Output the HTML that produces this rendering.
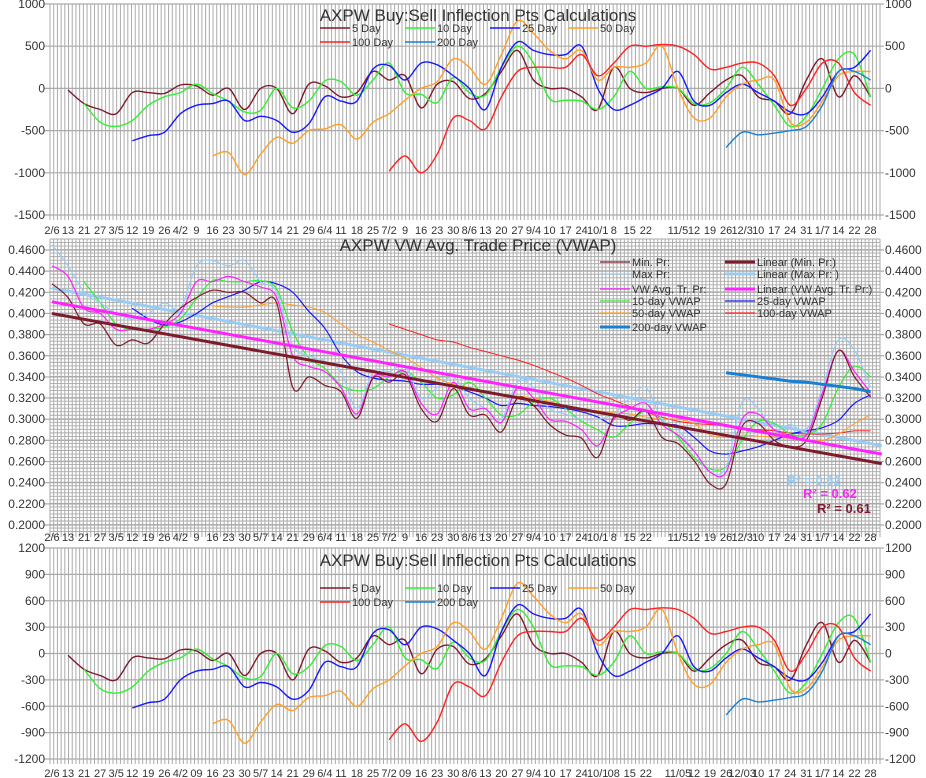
<!DOCTYPE html>
<html><head><meta charset="utf-8"><style>
html,body{margin:0;padding:0;background:#fff;}
svg{display:block;font-family:"Liberation Sans",sans-serif;}
</style></head><body>
<svg id="chart" width="926" height="778" viewBox="0 0 926 778" xmlns="http://www.w3.org/2000/svg">
<g id="grid"></g>
<g id="marks"></g>
<g id="labels"></g>
<g id="legend"></g>
<text x="478" y="21" text-anchor="middle" font-size="17" fill="#333">AXPW Buy:Sell Inflection Pts Calculations</text>
<text x="478" y="251" text-anchor="middle" font-size="17" fill="#333">AXPW VW Avg. Trade Price (VWAP)</text>
<text x="478" y="566" text-anchor="middle" font-size="17" fill="#333">AXPW Buy:Sell Inflection Pts Calculations</text>
<text x="787" y="485" font-size="13" font-weight="bold" fill="#99ccf5">R² = 0.62</text>
<text x="803" y="498" font-size="13" font-weight="bold" fill="#ff22ff">R² = 0.62</text>
<text x="817" y="513" font-size="13" font-weight="bold" fill="#7f1a2c">R² = 0.61</text>
</svg>
<script>
const weekLabels = ["2/6","13","21","27","3/5","12","19","26","4/2","9","16","23","30","5/7","14","21","29","6/4","11","18","25","7/2","9","16","23","30","8/6","13","20","27","9/4","10","17","24","10/1","8","15","22","","11/5","12","19","26","12/3","10","17","24","31","1/7","14","22","28"];
const weekLabelsBottom = ["2/6","13","21","27","3/5","12","19","26","4/2","09","16","23","30","5/7","14","21","29","6/4","11","18","25","7/2","09","16","23","30","8/6","13","20","27","9/4","10","17","24","10/1","08","15","22","","11/05","12","19","26","12/03","10","17","24","31","1/7","14","22","28"];
const yTicksTop = [1000,500,0,-500,-1000,-1500];
const yTicksBottom = [1200,900,600,300,0,-300,-600,-900,-1200];
const yTicksMid = [0.46,0.44,0.42,0.40,0.38,0.36,0.34,0.32,0.30,0.28,0.26,0.24,0.22,0.20];

const d5 = [null,-20,-180,-250,-300,-50,-50,-60,40,30,-80,0,-250,0,0,-300,50,30,-100,-50,200,100,150,-230,50,80,-120,-60,200,450,100,0,0,-100,-250,250,0,-50,0,0,-200,-50,100,150,-100,-150,-300,100,350,-100,150,-100];
const d10 = [null,null,-180,-400,-450,-380,-200,-100,-50,50,-60,-150,-280,-260,0,-230,-150,90,80,-80,100,300,-50,-70,-170,130,-50,-80,250,500,300,-120,-140,-150,-250,-100,200,0,20,0,-180,-170,0,250,50,-200,-450,-330,0,350,400,-100];
const d25 = [null,null,null,null,null,-620,-560,-520,-300,-200,-180,-150,-380,-330,-380,-520,-420,-100,-150,-150,230,270,100,300,280,150,0,-250,250,550,450,400,400,500,0,-250,-200,-100,0,200,-150,-200,-50,50,-50,-150,-280,-300,-100,200,250,450];
const d50 = [null,null,null,null,null,null,null,null,null,null,-800,-760,-1020,-780,-580,-650,-500,-480,-430,-600,-400,-300,-140,0,80,350,250,50,400,800,650,450,350,450,100,250,250,300,500,0,-350,-350,-100,50,100,100,-400,-400,-150,150,200,200];
const d100 = [null,null,null,null,null,null,null,null,null,null,null,null,null,null,null,null,null,null,null,null,null,-980,-800,-1000,-780,-350,-380,-480,-100,200,250,250,250,400,150,300,500,500,520,500,400,230,250,300,300,150,-200,0,300,300,-50,-200];
const d200 = [null,null,null,null,null,null,null,null,null,null,null,null,null,null,null,null,null,null,null,null,null,null,null,null,null,null,null,null,null,null,null,null,null,null,null,null,null,null,null,null,null,null,-700,-520,-550,-530,-500,-450,-200,200,200,100];

const minPr = [0.428,0.415,0.39,0.39,0.37,0.375,0.372,0.39,0.405,0.415,0.422,0.42,0.42,0.41,0.41,0.33,0.34,0.332,0.326,0.301,0.339,0.335,0.342,0.31,0.298,0.329,0.304,0.304,0.288,0.32,0.313,0.295,0.285,0.282,0.264,0.302,0.299,0.308,0.283,0.277,0.261,0.239,0.239,0.293,0.296,0.28,0.274,0.28,0.321,0.365,0.34,0.321];
const maxPr = [0.465,0.445,0.42,0.41,0.40,0.395,0.40,0.41,0.405,0.445,0.45,0.445,0.45,0.43,0.42,0.37,0.36,0.355,0.345,0.31,0.345,0.345,0.35,0.32,0.33,0.34,0.32,0.31,0.30,0.335,0.33,0.31,0.305,0.30,0.30,0.305,0.32,0.33,0.30,0.29,0.27,0.25,0.255,0.316,0.31,0.29,0.295,0.29,0.33,0.375,0.365,0.33];
const vwPr = [0.445,0.435,0.405,0.40,0.385,0.385,0.385,0.39,0.40,0.43,0.43,0.435,0.43,0.425,0.415,0.36,0.35,0.345,0.33,0.305,0.34,0.34,0.345,0.315,0.305,0.335,0.31,0.31,0.297,0.33,0.32,0.30,0.298,0.29,0.275,0.30,0.31,0.315,0.295,0.285,0.27,0.25,0.25,0.30,0.305,0.29,0.285,0.285,0.325,0.365,0.345,0.325];
const v10 = [null,null,0.43,0.41,0.39,0.385,0.385,0.387,0.395,0.414,0.431,0.43,0.43,0.431,0.423,0.383,0.358,0.348,0.332,0.327,0.329,0.34,0.345,0.335,0.32,0.323,0.335,0.32,0.304,0.304,0.316,0.32,0.31,0.298,0.29,0.283,0.296,0.308,0.299,0.283,0.264,0.253,0.255,0.28,0.298,0.296,0.286,0.285,0.296,0.33,0.35,0.34];
const v25 = [null,null,null,null,null,0.405,0.395,0.389,0.392,0.40,0.41,0.416,0.422,0.43,0.428,0.42,0.402,0.386,0.361,0.345,0.339,0.337,0.336,0.333,0.333,0.331,0.326,0.32,0.313,0.315,0.313,0.312,0.31,0.307,0.302,0.294,0.294,0.296,0.295,0.294,0.283,0.27,0.267,0.27,0.274,0.28,0.286,0.289,0.292,0.299,0.315,0.323];
const v50 = [null,null,null,null,null,null,null,null,null,null,0.407,0.406,0.406,0.408,0.41,0.408,0.406,0.401,0.39,0.38,0.373,0.365,0.358,0.349,0.339,0.333,0.33,0.325,0.323,0.322,0.32,0.317,0.312,0.307,0.308,0.306,0.305,0.302,0.30,0.30,0.296,0.285,0.283,0.285,0.284,0.283,0.282,0.28,0.28,0.286,0.296,0.304];
const v100 = [null,null,null,null,null,null,null,null,null,null,null,null,null,null,null,null,null,null,null,null,null,0.39,0.385,0.38,0.375,0.373,0.368,0.364,0.36,0.356,0.351,0.345,0.339,0.332,0.324,0.318,0.312,0.307,0.302,0.298,0.296,0.295,0.294,0.292,0.29,0.289,0.287,0.286,0.286,0.287,0.289,0.289];
const v200 = [null,null,null,null,null,null,null,null,null,null,null,null,null,null,null,null,null,null,null,null,null,null,null,null,null,null,null,null,null,null,null,null,null,null,null,null,null,null,null,null,null,null,0.344,0.342,0.340,0.338,0.336,0.335,0.333,0.331,0.329,0.326];
const trendMin = [0.400,0.258];
const trendMax = [0.424,0.275];
const trendVw = [0.411,0.267];
const trendWeeks = [0,51.7];

const NS = "http://www.w3.org/2000/svg";
const X0 = 52, XW = 16.05, PL = 50, PR = 880;
function xw(w){ return X0 + w*XW; }
function yTop(v){ return 4 + (1000 - v)/2500*211; }
function yBot(v){ return 548 + (1200 - v)/2400*211; }
function yMid(v){ return 250 + (0.46 - v)/0.26*275; }

function el(tag, attrs, parent){
  const e = document.createElementNS(NS, tag);
  for (const k in attrs) e.setAttribute(k, attrs[k]);
  parent.appendChild(e);
  return e;
}
const grid = document.getElementById('grid');
const marks = document.getElementById('marks');
const labels = document.getElementById('labels');
const legend = document.getElementById('legend');

function panelGrid(yA, yB, hLines, minor){
  const nd = 224;
  for (let i = 0; i <= nd; i++){
    const x = PL + i*(PR-PL)/nd;
    el('line',{x1:x,x2:x,y1:yA,y2:yB+5,stroke:'#aaa','stroke-width':1},grid);
  }
  hLines.forEach(y => el('line',{x1:PL-6,x2:PR+4,y1:y,y2:y,stroke:'#aaa','stroke-width':1.2},grid));
  if (minor){
    for (let y = yA; y <= yB+0.1; y += minor){
      el('line',{x1:PL,x2:PR,y1:y,y2:y,stroke:'#aaa','stroke-width':0.9},grid);
    }
  }
}
panelGrid(4,215,yTicksTop.map(yTop),0);
panelGrid(239,532,yTicksMid.map(yMid),21.15/6);
panelGrid(548,759,yTicksBottom.map(yBot),0);

function smoothPath(pts){
  let d = '';
  let seg = [];
  const flush = () => {
    if (seg.length > 1){
      d += 'M' + seg[0][0].toFixed(1) + ',' + seg[0][1].toFixed(1);
      for (let i = 0; i < seg.length-1; i++){
        const p0 = seg[Math.max(0,i-1)], p1 = seg[i], p2 = seg[i+1], p3 = seg[Math.min(seg.length-1,i+2)];
        const c1x = p1[0]+(p2[0]-p0[0])/6, c1y = p1[1]+(p2[1]-p0[1])/6;
        const c2x = p2[0]-(p3[0]-p1[0])/6, c2y = p2[1]-(p3[1]-p1[1])/6;
        d += 'C'+c1x.toFixed(1)+','+c1y.toFixed(1)+' '+c2x.toFixed(1)+','+c2y.toFixed(1)+' '+p2[0].toFixed(1)+','+p2[1].toFixed(1);
      }
    }
    seg = [];
  };
  pts.forEach(p => { if (p === null) flush(); else seg.push(p); });
  flush();
  return d;
}
function drawSeries(arr, yf, color, width, name){
  const pts = arr.map((v,i) => v === null ? null : [xw(i), yf(v)]);
  const p = el('path',{d:smoothPath(pts),fill:'none',stroke:color,'stroke-width':width,'stroke-linejoin':'round'},marks);
  
  
}
function drawTrend(vals, color, name){
  const p = el('line',{x1:xw(trendWeeks[0]),y1:yMid(vals[0]),x2:xw(trendWeeks[1]),y2:yMid(vals[1]),stroke:color,'stroke-width':3},marks);
  
  
}

const C = {d5:'#7f1a2c',d10:'#33ee33',d25:'#1818ff',d50:'#ff9f2a',d100:'#ff2020',d200:'#1a7fd0',lb:'#99ccf5',mg:'#ff22ff'};
[[d5,C.d5,'5-day'],[d10,C.d10,'10-day'],[d25,C.d25,'25-day'],[d50,C.d50,'50-day'],[d100,C.d100,'100-day'],[d200,C.d200,'200-day']].forEach(s=>{
  drawSeries(s[0], yTop, s[1], 1.4, 'top-line-'+s[2]);
  drawSeries(s[0], yBot, s[1], 1.4, 'bottom-line-'+s[2]);
});
drawTrend(trendMax, C.lb, 'trend-max-price');
drawSeries(v100, yMid, C.d100, 1, 'vwap-100-day-line');
drawSeries(v50, yMid, C.d50, 1, 'vwap-50-day-line');
drawSeries(v25, yMid, C.d25, 1.2, 'vwap-25-day-line');
drawSeries(v10, yMid, C.d10, 1.2, 'vwap-10-day-line');
drawSeries(maxPr, yMid, C.lb, 1.2, 'max-price-line');
drawSeries(vwPr, yMid, C.mg, 1.2, 'vw-avg-price-line');
drawSeries(minPr, yMid, C.d5, 1.2, 'min-price-line');
drawSeries(v200, yMid, C.d200, 3, 'vwap-200-day-line');
drawTrend(trendVw, C.mg, 'trend-vw-avg-price');
drawTrend(trendMin, C.d5, 'trend-min-price');

function yLabels(ticks, yf, fmt, prefix){
  ticks.forEach(v=>{
    const a = el('text',{x:45,y:yf(v)+4,'text-anchor':'end','font-size':12,fill:'#333'},labels);
    a.textContent = fmt(v);
    
    
    const b = el('text',{x:885,y:yf(v)+4,'font-size':12,fill:'#333'},labels);
    b.textContent = fmt(v);
    
    
  });
}
yLabels(yTicksTop, yTop, v=>String(v), 'top-y');
yLabels(yTicksMid, yMid, v=>v.toFixed(4), 'mid-y');
yLabels(yTicksBottom, yBot, v=>String(v), 'bottom-y');
function xLabels(list, y, prefix){
  list.forEach((t,i)=>{
    const a = el('text',{x:xw(i),y:y,'text-anchor':'middle','font-size':11,fill:'#333'},labels);
    a.textContent = t;
    
    
  });
}
xLabels(weekLabels, 234, 'top');
xLabels(weekLabels, 541, 'mid');
xLabels(weekLabelsBottom, 777, 'bottom');

function legendItem(x, y, color, w, text, name){
  const l = el('line',{x1:x,x2:x+30,y1:y,y2:y,stroke:color,'stroke-width':w},legend);
  
  
  const t = el('text',{x:x+32,y:y+4,'font-size':11,fill:'#333'},legend);
  t.textContent = text;
  
  
}
[[28,0],[588,1]].forEach(o=>{
  const y1 = o[0], p = o[1] ? 'bottom' : 'top';
  legendItem(320,y1,C.d5,1.4,'5 Day',p+'-legend-5-day');
  legendItem(405,y1,C.d10,1.4,'10 Day',p+'-legend-10-day');
  legendItem(490,y1,C.d25,1.4,'25 Day',p+'-legend-25-day');
  legendItem(568,y1,C.d50,1.4,'50 Day',p+'-legend-50-day');
  legendItem(320,y1+14,C.d100,1.4,'100 Day',p+'-legend-100-day');
  legendItem(405,y1+14,C.d200,1.4,'200 Day',p+'-legend-200-day');
});
const legRows = [262,274,289,301,313,327];
legendItem(600,legRows[0],C.d5,1.2,'Min. Pr:','legend-min-price');
legendItem(600,legRows[1],C.lb,1.2,'Max Pr:','legend-max-price');
legendItem(600,legRows[2],C.mg,1.2,'VW Avg. Tr. Pr:','legend-vw-avg');
legendItem(600,legRows[3],C.d10,1.2,'10-day VWAP','legend-vwap-10');
legendItem(600,legRows[4],C.d50,1.2,'50-day VWAP','legend-vwap-50');
legendItem(600,legRows[5],C.d200,3,'200-day VWAP','legend-vwap-200');
legendItem(725,legRows[0],C.d5,3,'Linear (Min. Pr:)','legend-linear-min');
legendItem(725,legRows[1],C.lb,3,'Linear (Max Pr: )','legend-linear-max');
legendItem(725,legRows[2],C.mg,3,'Linear (VW Avg. Tr. Pr:)','legend-linear-vw');
legendItem(725,legRows[3],C.d25,1.2,'25-day VWAP','legend-vwap-25');
legendItem(725,legRows[4],C.d100,1.2,'100-day VWAP','legend-vwap-100');
</script>
</body></html>
